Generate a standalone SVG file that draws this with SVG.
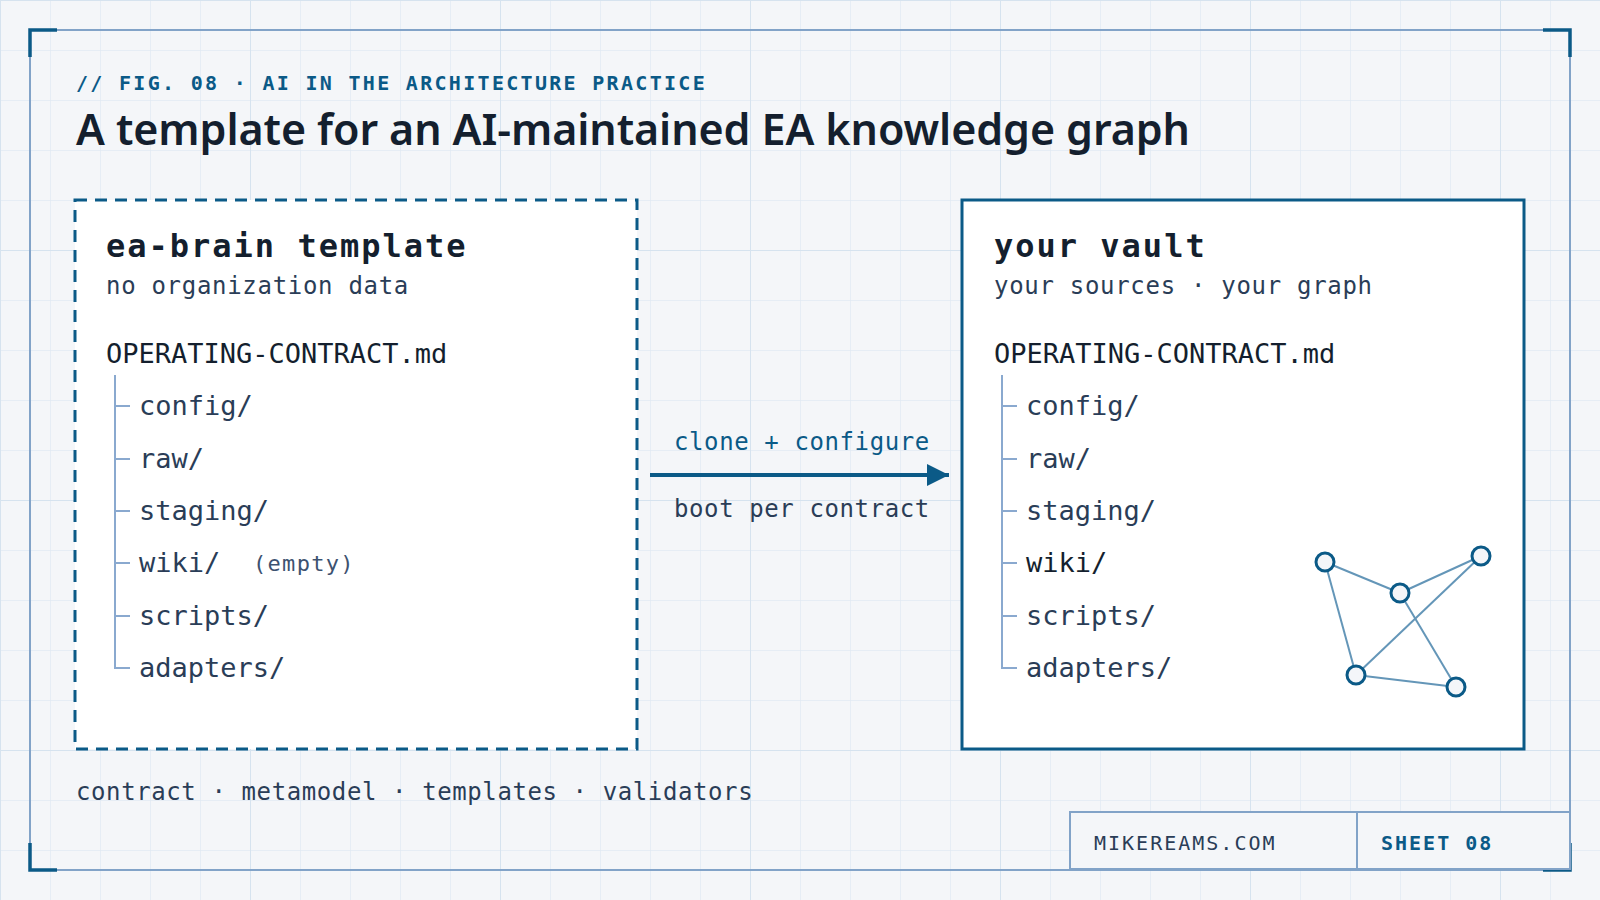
<svg xmlns="http://www.w3.org/2000/svg" width="1600" height="900" viewBox="0 0 1600 900">
  <defs>
    <pattern id="minor" width="50" height="50" patternUnits="userSpaceOnUse">
      <path d="M0 0 H50 M0 0 V50" fill="none" stroke="#e2eaf3" stroke-width="1.5"/>
    </pattern>
    <pattern id="major" width="250" height="250" patternUnits="userSpaceOnUse">
      <path d="M0 0 H250 M0 0 V250" fill="none" stroke="#d6e3ef" stroke-width="2"/>
    </pattern>
    <marker id="arrow" viewBox="0 0 22 22" refX="22" refY="11" markerWidth="22" markerHeight="22" markerUnits="userSpaceOnUse" orient="auto">
      <path d="M0 0 L22 11 L0 22 Z" fill="#0b5a87"/>
    </marker>
    <style>
      .mono { font-family: "DejaVu Sans Mono", "Liberation Mono", monospace; }
      .eyebrow { font-size: 20px; letter-spacing: 2.3px; fill: #0b5a87; font-weight: bold; }
      .title { font-family: "Noto Sans", "Liberation Sans", sans-serif; font-size: 43px; font-weight: 600; fill: #141f2e; }
      .boxtitle { font-size: 32px; font-weight: bold; letter-spacing: 2px; fill: #141f2e; }
      .sub { font-size: 24px; letter-spacing: 0.7px; fill: #2a3d57; }
      .file { font-size: 27px; fill: #141f2e; }
      .item { font-size: 27px; fill: #2a3d57; }
      .note { font-size: 22px; letter-spacing: 1.3px; fill: #3d5270; }
      .tree { fill: none; stroke: #8aa9cf; stroke-width: 2; }
      .frame { fill: none; stroke: #82a3c8; stroke-width: 2; }
      .corner { fill: none; stroke: #0b5a87; stroke-width: 3.5; }
      .edge { stroke: #6496b8; stroke-width: 2; }
      .gnode { fill: #f4f6f9; stroke: #0b5a87; stroke-width: 3; }
      .lbl { font-size: 24px; letter-spacing: 0.6px; }
      .tb { font-size: 20px; letter-spacing: 2px; }
    </style>
  </defs>

  <rect width="1600" height="900" fill="#f4f6f9"/>
  <rect width="1600" height="900" fill="url(#minor)"/>
  <rect width="1600" height="900" fill="url(#major)"/>

  <rect class="frame" x="30" y="30" width="1540" height="840"/>
  <path class="corner" d="M30 57 V30 H57"/>
  <path class="corner" d="M1543 30 H1570 V57"/>
  <path class="corner" d="M30 843 V870 H57"/>
  <path class="corner" d="M1543 870 H1570 V843"/>

  <text class="mono eyebrow" x="76" y="90">// FIG. 08 · AI IN THE ARCHITECTURE PRACTICE</text>
  <text class="title" x="76" y="145" textLength="1114">A template for an AI-maintained EA knowledge graph</text>

  <g id="template">
    <rect x="75" y="200" width="562" height="549" fill="#ffffff" stroke="#0b5a87" stroke-width="3" stroke-dasharray="12 8"/>
    <text class="mono boxtitle" x="106" y="257">ea-brain template</text>
    <text class="mono sub" x="106" y="294">no organization data</text>
    <text class="mono file" x="106" y="363">OPERATING-CONTRACT.md</text>
    <path class="tree" d="M115 375 V668 H130 M115 406 H130 M115 459 H130 M115 511 H130 M115 563 H130 M115 616 H130"/>
    <text class="mono item" x="139" y="415">config/</text>
    <text class="mono item" x="139" y="468">raw/</text>
    <text class="mono item" x="139" y="520">staging/</text>
    <text class="mono item" x="139" y="572">wiki/</text>
    <text class="mono note" x="253" y="571">(empty)</text>
    <text class="mono item" x="139" y="625">scripts/</text>
    <text class="mono item" x="139" y="677">adapters/</text>
  </g>

  <g id="vault">
    <rect x="962" y="200" width="562" height="549" fill="#ffffff" stroke="#0b5a87" stroke-width="3"/>
    <text class="mono boxtitle" x="994" y="257">your vault</text>
    <text class="mono sub" x="994" y="294">your sources · your graph</text>
    <text class="mono file" x="994" y="363">OPERATING-CONTRACT.md</text>
    <path class="tree" d="M1002 375 V668 H1017 M1002 406 H1017 M1002 459 H1017 M1002 511 H1017 M1002 563 H1017 M1002 616 H1017"/>
    <text class="mono item" x="1026" y="415">config/</text>
    <text class="mono item" x="1026" y="468">raw/</text>
    <text class="mono item" x="1026" y="520">staging/</text>
    <text class="mono file" x="1026" y="572">wiki/</text>
    <text class="mono item" x="1026" y="625">scripts/</text>
    <text class="mono item" x="1026" y="677">adapters/</text>
    <g id="graph">
      <line class="edge" x1="1325" y1="562" x2="1400" y2="593"/>
      <line class="edge" x1="1400" y1="593" x2="1481" y2="556"/>
      <line class="edge" x1="1325" y1="562" x2="1356" y2="675"/>
      <line class="edge" x1="1481" y1="556" x2="1356" y2="675"/>
      <line class="edge" x1="1400" y1="593" x2="1456" y2="687"/>
      <line class="edge" x1="1356" y1="675" x2="1456" y2="687"/>
      <circle class="gnode" cx="1325" cy="562" r="9"/>
      <circle class="gnode" cx="1400" cy="593" r="9"/>
      <circle class="gnode" cx="1481" cy="556" r="9"/>
      <circle class="gnode" cx="1356" cy="675" r="9"/>
      <circle class="gnode" cx="1456" cy="687" r="9"/>
    </g>
  </g>

  <g id="connectors">
    <line x1="650" y1="475" x2="949" y2="475" stroke="#0b5a87" stroke-width="4" marker-end="url(#arrow)"/>
    <text class="mono lbl" x="674" y="450" fill="#0b5a87">clone + configure</text>
    <text class="mono lbl" x="674" y="517" fill="#2a3d57">boot per contract</text>
  </g>

  <text class="mono lbl" x="76" y="800" fill="#2a3d57" letter-spacing="0.5">contract · metamodel · templates · validators</text>

  <g id="titleblock">
    <rect x="1070" y="812" width="500" height="57" fill="#f4f6f9" stroke="#82a3c8" stroke-width="2"/>
    <line x1="1357" y1="812" x2="1357" y2="869" stroke="#82a3c8" stroke-width="2"/>
    <text class="mono tb" x="1094" y="850" fill="#2a3d57">MIKEREAMS.COM</text>
    <text class="mono tb" x="1381" y="850" fill="#0b5a87" font-weight="bold">SHEET 08</text>
  </g>
</svg>
